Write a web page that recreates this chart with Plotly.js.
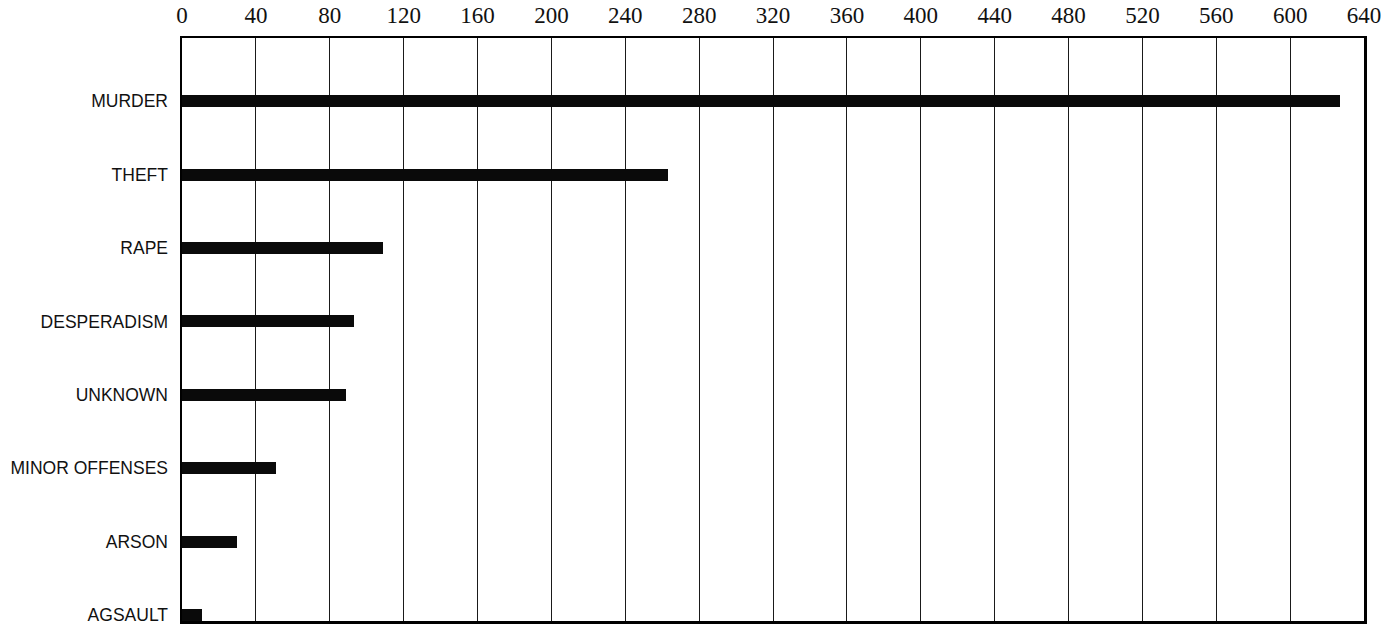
<!DOCTYPE html>
<html>
<head>
<meta charset="utf-8">
<script src="https://cdn.plot.ly/plotly-3.0.1.min.js"></script>
<style>html,body{margin:0;padding:0;background:#fff;}#chart{width:1396px;height:643px;}</style>
</head>
<body>
<div id="chart"></div>
<script>
const categories = ["MURDER", "THEFT", "RAPE", "DESPERADISM", "UNKNOWN", "MINOR OFFENSES", "ARSON", "AGSAULT"];
const values = [627, 263, 109, 93, 89, 51, 30, 11];
const tickValues = [0, 40, 80, 120, 160, 200, 240, 280, 320, 360, 400, 440, 480, 520, 560, 600, 640];

const trace = {
  type: "bar",
  orientation: "h",
  x: values,
  y: categories,
  width: 0.165,
  marker: {color: "#0a0a0a", line: {width: 0}},
  hoverinfo: "x+y"
};

const layout = {
  width: 1396,
  height: 643,
  margin: {l: 182, r: 32, t: 38, b: 22},
  paper_bgcolor: "#ffffff",
  plot_bgcolor: "#ffffff",
  showlegend: false,
  bargap: 0,
  xaxis: {
    side: "top",
    range: [0, 640],
    tickvals: tickValues,
    ticktext: tickValues.map(String),
    ticks: "",
    showgrid: true,
    gridcolor: "#1a1a1a",
    gridwidth: 1,
    zeroline: false,
    showline: true,
    linecolor: "#000",
    linewidth: 2.5,
    mirror: true,
    tickfont: {family: "Liberation Serif, DejaVu Serif, serif", size: 23, color: "#111"},
    ticklabelstandoff: 3
  },
  yaxis: {
    type: "category",
    categoryorder: "array",
    categoryarray: categories,
    range: [7.08, -0.86],
    ticks: "",
    showgrid: false,
    zeroline: false,
    showline: true,
    linecolor: "#000",
    linewidth: 2.5,
    mirror: true,
    tickfont: {family: "Liberation Sans, Arial, sans-serif", size: 17.5, color: "#111"},
    ticklabelstandoff: 8
  }
};

Plotly.newPlot("chart", [trace], layout, {displayModeBar: false, staticPlot: true});
</script>
</body>
</html>
